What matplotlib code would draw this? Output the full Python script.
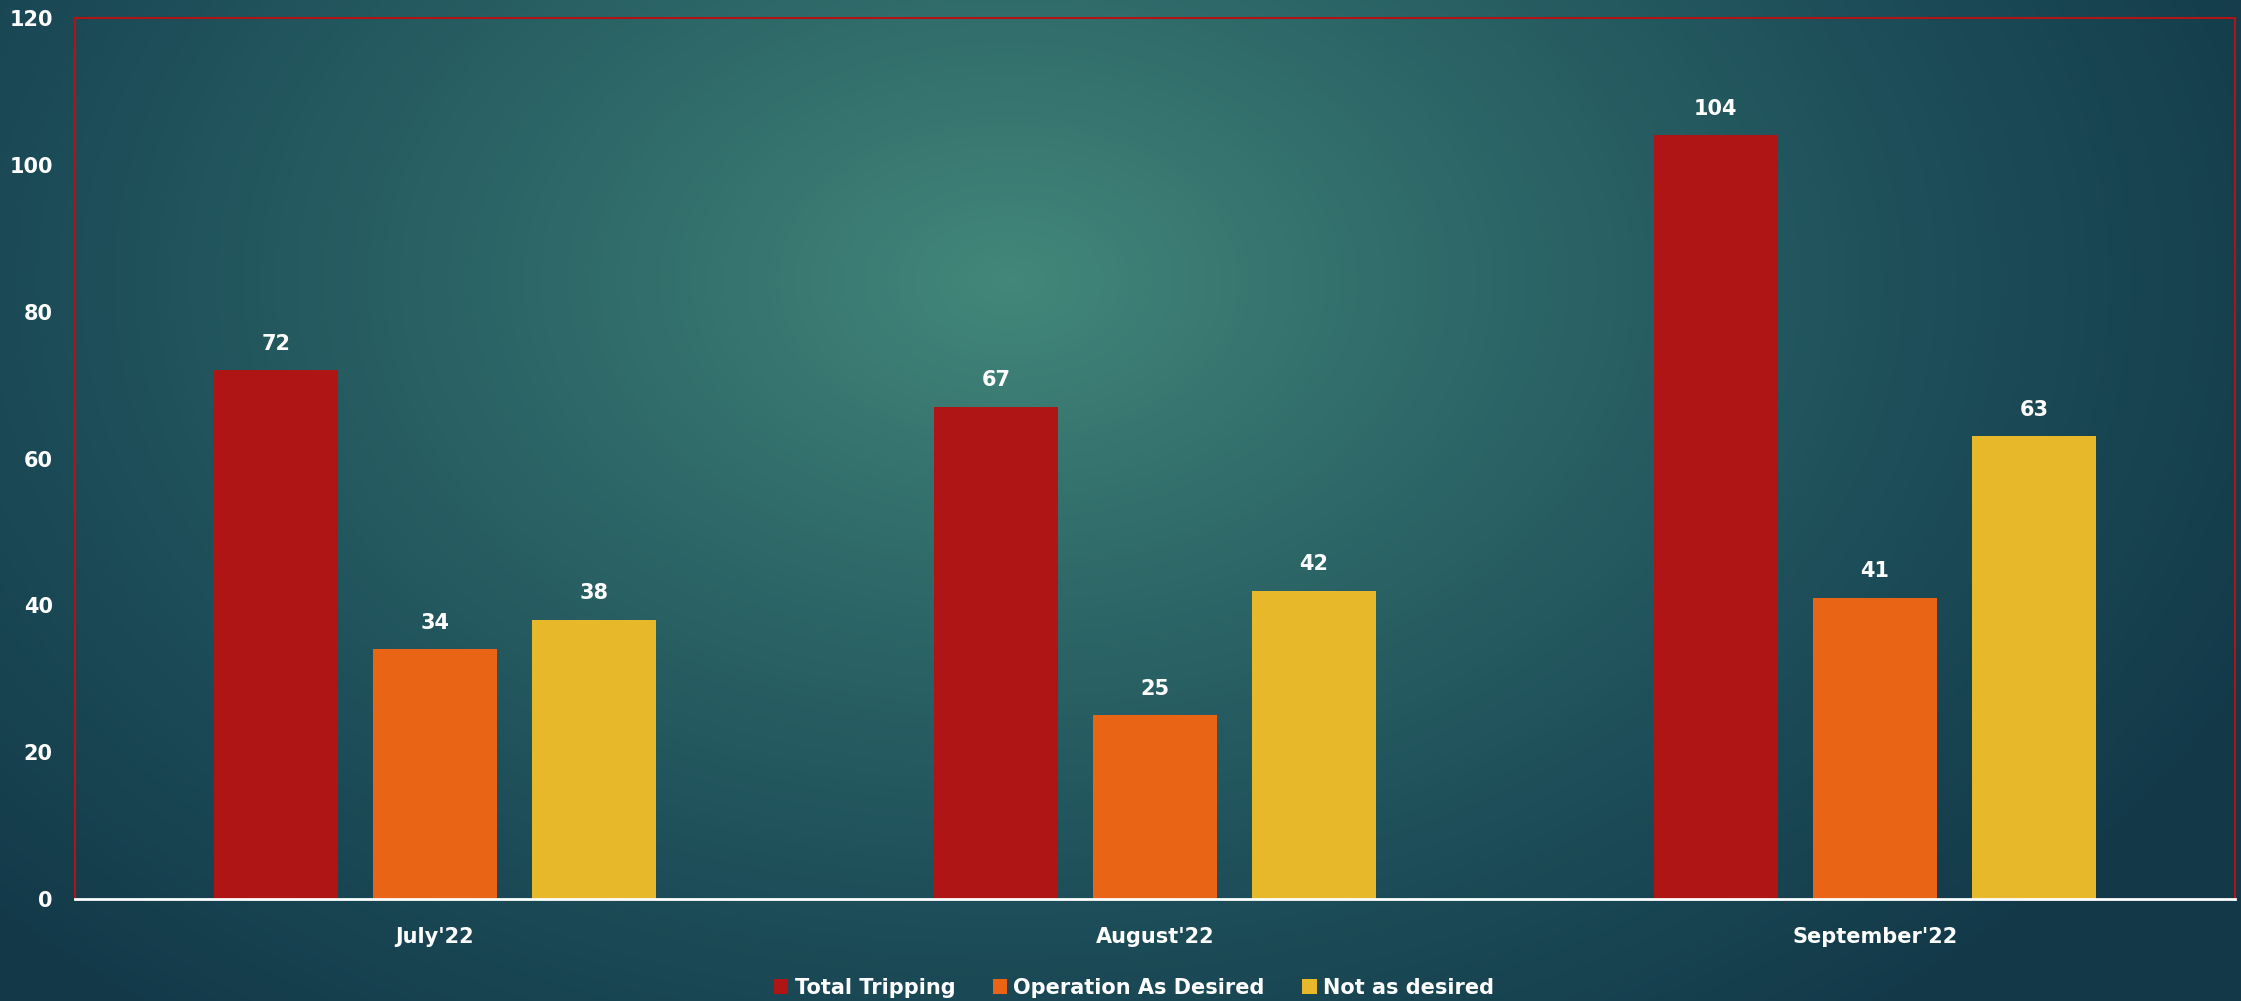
import numpy as np
import matplotlib.pyplot as plt
from matplotlib.colors import LinearSegmentedColormap

# Data
months = ["July'22", "August'22", "September'22"]
total_tripping = [72, 67, 104]
operation_desired = [34, 25, 41]
not_desired = [38, 42, 63]

series = ["Total Tripping", "Operation As Desired", "Not as desired"]
colors = ["#B01515", "#E96414", "#E6B82A"]

plt.rcParams['font.family'] = ['DejaVu Sans']
plt.rcParams['font.weight'] = 'bold'

W, H = 2241, 1001
fig = plt.figure(figsize=(W / 100, H / 100), dpi=100)

# Background gradient (teal glow, darker edges)
bg = fig.add_axes([0, 0, 1, 1])
yy, xx = np.mgrid[0:1:300j, 0:1:600j]
d = np.sqrt(((xx - 0.45) / 0.62) ** 2 + ((yy - 0.28) / 0.95) ** 2)
d = np.clip(d, 0, 1)
cmap = LinearSegmentedColormap.from_list("bg", ["#42877a", "#2e6868", "#1d4e59", "#133949"])
bg.imshow(d, cmap=cmap, aspect='auto', extent=[0, 1, 1, 0], interpolation='bicubic')
bg.axis('off')

ax = fig.add_axes([75 / W, 1 - 899 / H, 2160 / W, 881 / H])
ax.patch.set_alpha(0)

x = np.arange(len(months))
width = 0.172
step = 0.221
for i, (vals, name, c) in enumerate(zip([total_tripping, operation_desired, not_desired], series, colors)):
    bars = ax.bar(x + (i - 1) * step, vals, width, color=c, label=name, zorder=2)
    for b, v in zip(bars, vals):
        ax.annotate(str(v), (b.get_x() + b.get_width() / 2, v), xytext=(0, 12),
                    textcoords='offset points', ha='center', va='bottom',
                    color='white', fontsize=15, fontweight='bold')

ax.set_xlim(-0.5, 2.5)
ax.set_ylim(0, 120)
ax.set_yticks(range(0, 121, 20))
ax.set_xticks(x)
ax.set_xticklabels(months)
ax.tick_params(axis='both', length=0, colors='white', labelsize=15)
ax.tick_params(axis='y', pad=16)
ax.tick_params(axis='x', pad=20)
for lbl in ax.get_xticklabels() + ax.get_yticklabels():
    lbl.set_fontweight('bold')

for s in ['left', 'top', 'right']:
    ax.spines[s].set_color('#B01515')
    ax.spines[s].set_linewidth(1.5)
ax.spines['bottom'].set_color('white')
ax.spines['bottom'].set_linewidth(2)

leg = fig.legend(loc='center', bbox_to_anchor=(0.506, 1 - 988 / H), ncol=3, frameon=False,
                 fontsize=15, handlelength=0.7, handleheight=0.7, handletextpad=0.3,
                 columnspacing=1.8, labelcolor='white')

fig.savefig('out.png', dpi=100)
